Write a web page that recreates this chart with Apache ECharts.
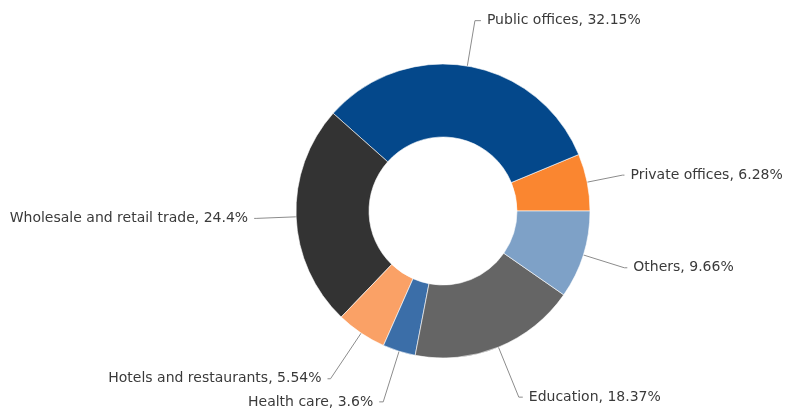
<!DOCTYPE html>
<html>
<head>
    <meta charset="UTF-8">
    <title>Employment by sector</title>
    <script src="https://cdn.jsdelivr.net/npm/echarts@6/dist/echarts.min.js"></script>
    <style>
        html, body { margin: 0; padding: 0; background: #fff; }
    </style>
</head>
<body>
<div id="main" style="width: 790px;height:410px;"></div>
<script>
    // sectors, counter-clockwise from 3 o'clock
    var sectors = ['Private offices', 'Public offices', 'Wholesale and retail trade',
        'Hotels and restaurants', 'Health care', 'Education', 'Others'];
    var shares = [6.28, 32.15, 24.4, 5.54, 3.6, 18.37, 9.66];
    var colors = ['#fa8630', '#04488b', '#333333', '#faa166', '#3b6ea8', '#656565', '#7ea1c7'];

    // label connector lengths per slice [radial, horizontal]
    var connectors = [[36, 2], [46, 6], [40, 2], [55, 3], [53, 4], [54, 4], [43, 3]];

    var myChart = echarts.init(document.getElementById('main'));

    var data = sectors.map(function (name, i) {
        return {
            name: name,
            value: shares[i],
            itemStyle: { color: colors[i] },
            labelLine: { length: connectors[i][0], length2: connectors[i][1] }
        };
    });

    var option = {
        animation: false,
        series: [{
            type: 'pie',
            center: [443, 211],
            radius: [74, 147],
            startAngle: 0,
            clockwise: false,
            avoidLabelOverlap: false,
            itemStyle: {
                borderColor: '#ffffff',
                borderWidth: 0.6
            },
            label: {
                show: true,
                position: 'outside',
                formatter: '{b}, {c}%',
                fontFamily: 'DejaVu Sans',
                fontSize: 14,
                color: '#3a3a3a',
                distanceToLabelLine: 6
            },
            labelLine: {
                show: true,
                smooth: false,
                lineStyle: { color: '#8c8c8c', width: 1 }
            },
            emphasis: { disabled: true },
            data: data
        }]
    };

    myChart.setOption(option);
</script>
</body>
</html>
